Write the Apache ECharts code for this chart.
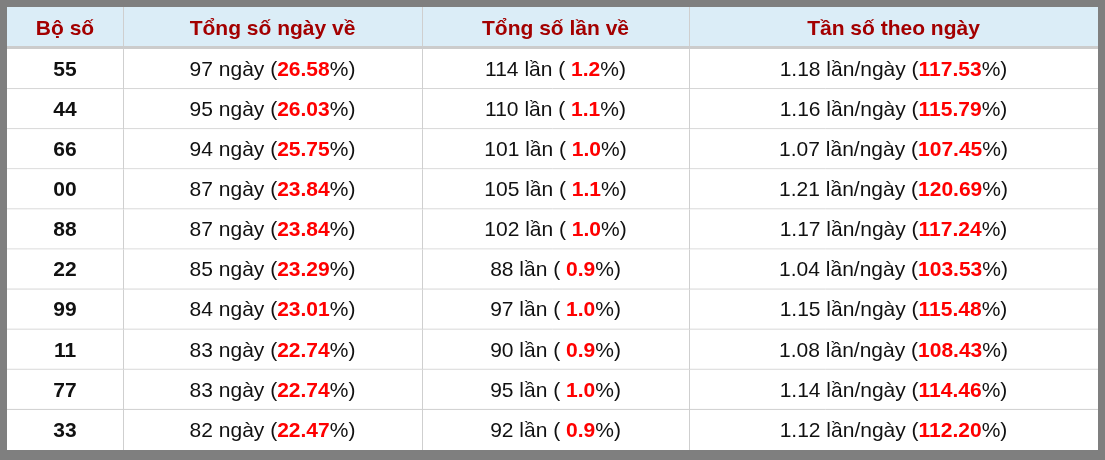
<!DOCTYPE html>
<html><head><meta charset="utf-8">
<script src="https://cdn.jsdelivr.net/npm/echarts@6/dist/echarts.min.js"></script>
<style>html,body{margin:0;padding:0;background:#fff}#c{width:1105px;height:460px;box-sizing:border-box;border-style:solid;border-color:#7f7f7f;border-width:7px 7px 10px 7px}</style>
</head><body><div id="c"></div>
<script>
var headers = ['Bộ số', 'Tổng số ngày về', 'Tổng số lần về', 'Tần số theo ngày'];
var boSo = ['55','44','66','00','88','22','99','11','77','33'];
var soNgay = [97,95,94,87,87,85,84,83,83,82];
var pctNgay = ['26.58','26.03','25.75','23.84','23.84','23.29','23.01','22.74','22.74','22.47'];
var soLan = [114,110,101,105,102,88,97,90,95,92];
var pctLan = ['1.2','1.1','1.0','1.1','1.0','0.9','1.0','0.9','1.0','0.9'];
var tanSo = ['1.18','1.16','1.07','1.21','1.17','1.04','1.15','1.08','1.14','1.12'];
var pctTanSo = ['117.53','115.79','107.45','120.69','117.24','103.53','115.48','108.43','114.46','112.20'];

var colEdges = [0,116,415,682,1091];
var headH = 42, rowH = 40;
var rows = [-1].concat(boSo.map(function(_,i){return i;}));
var chart = echarts.init(document.getElementById('c'));
var FONT = '"Liberation Sans", Arial, sans-serif';
var FS = 21;
var rich = {
  a:{fontSize:FS,fontFamily:FONT,color:'#111',fill:'#111'},
  r:{fontSize:FS,fontFamily:FONT,color:'#ff0000',fill:'#ff0000',fontWeight:'bold'},
  h:{fontSize:FS,fontFamily:FONT,color:'#a30000',fill:'#a30000',fontWeight:'bold'},
  b:{fontSize:FS,fontFamily:FONT,color:'#111',fill:'#111',fontWeight:'bold'}
};
function cellTexts(i){
  return [
    '{b|'+boSo[i]+'}',
    '{a|'+soNgay[i]+' ngày (}{r|'+pctNgay[i]+'}{a|%)}',
    '{a|'+soLan[i]+' lần ( }{r|'+pctLan[i]+'}{a|%)}',
    '{a|'+tanSo[i]+' lần/ngày (}{r|'+pctTanSo[i]+'}{a|%)}'
  ];
}
chart.setOption({
  animation:false,
  grid:{left:0,right:0,top:0,bottom:0},
  xAxis:{type:'value',min:0,max:1091,show:false},
  yAxis:{type:'value',min:0,max:headH+rowH*10,inverse:true,show:false},
  series:[{
    type:'custom',
    data:rows.map(function(r){return [r];}),
    renderItem:function(params,api){
      var r = api.value(0);
      var y0 = r<0 ? 0 : headH+rowH*r;
      var y1 = r<0 ? headH : y0+rowH;
      var p0 = api.coord([0,y0]), p1 = api.coord([1091,y1]);
      var children = [];
      children.push({type:'rect',shape:{x:p0[0],y:p0[1],width:p1[0]-p0[0],height:p1[1]-p0[1]},style:{fill:r<0?'#dbedf7':'#fff'}});
      var texts = r<0 ? headers.map(function(h){return '{h|'+h+'}';}) : cellTexts(r);
      for(var c=0;c<4;c++){
        var a = api.coord([colEdges[c],y0]), b = api.coord([colEdges[c+1],y1]);
        if(c>0) children.push({type:'line',shape:{x1:a[0]+0.5,y1:a[1],x2:a[0]+0.5,y2:b[1]},style:{stroke:'#cfcfcf',lineWidth:1}});
        children.push({type:'text',style:{text:texts[c],x:(a[0]+b[0])/2,y:(a[1]+b[1])/2+1,align:'center',verticalAlign:'middle',fill:'#111',rich:rich}});
      }
      if(r<0) children.push({type:'rect',shape:{x:p0[0],y:p1[1]-3,width:p1[0]-p0[0],height:3},style:{fill:'#cccccc'}});
      else if(r<9) children.push({type:'line',shape:{x1:p0[0],y1:p1[1]-0.5,x2:p1[0],y2:p1[1]-0.5},style:{stroke:'#cfcfcf',lineWidth:1}});
      return {type:'group',children:children};
    }
  }]
});
</script></body></html>
